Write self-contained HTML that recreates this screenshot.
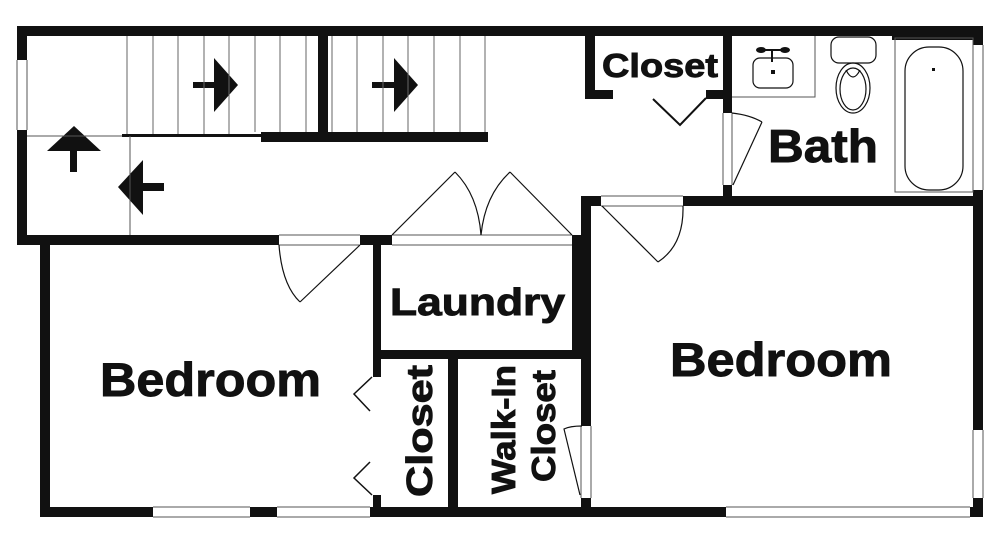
<!DOCTYPE html>
<html><head><meta charset="utf-8"><style>
html,body{margin:0;padding:0;background:#fff;width:1000px;height:554px;overflow:hidden}
svg text{font-family:"Liberation Sans",Arial,sans-serif;font-weight:bold;fill:#111;stroke:#111;stroke-width:0.9}
</style></head><body>
<svg width="1000" height="554" viewBox="0 0 1000 554" xmlns="http://www.w3.org/2000/svg">
<g fill="#111">
<rect x="17" y="26" width="966" height="10"/>
<rect x="892" y="26" width="91" height="14"/>
<rect x="17" y="26" width="10" height="34"/>
<rect x="17" y="130" width="10" height="115"/>
<rect x="17" y="235" width="262" height="10"/>
<rect x="360" y="235" width="32" height="10"/>
<rect x="572" y="235" width="10" height="10"/>
<rect x="40" y="243" width="10" height="274"/>
<rect x="40" y="507" width="113" height="10"/>
<rect x="250" y="507" width="27" height="10"/>
<rect x="370" y="507" width="356" height="10"/>
<rect x="970" y="507" width="13" height="10"/>
<rect x="973" y="26" width="10" height="19"/>
<rect x="973" y="190" width="10" height="240"/>
<rect x="973" y="498" width="10" height="19"/>
<rect x="373" y="238" width="8" height="139"/>
<rect x="373" y="495" width="8" height="22"/>
<rect x="373" y="350" width="218" height="9"/>
<rect x="572" y="238" width="10" height="112"/>
<rect x="581" y="197" width="10" height="229"/>
<rect x="581" y="498" width="10" height="19"/>
<rect x="448" y="350" width="10" height="167"/>
<rect x="581" y="196" width="20" height="10"/>
<rect x="683" y="196" width="300" height="10"/>
<rect x="723" y="36" width="9" height="77"/>
<rect x="723" y="185" width="9" height="12"/>
<rect x="585" y="36" width="10" height="63"/>
<rect x="585" y="90" width="28" height="9"/>
<rect x="706" y="90" width="20" height="9"/>
<rect x="318" y="36" width="10" height="106"/>
<rect x="261" y="132" width="227" height="10"/>
<rect x="122" y="134" width="139" height="3"/>
<polygon points="193,82 214,82 214,58 238,85 214,112 214,88 193,88"/>
<polygon points="372,82 394,82 394,58 418,85 394,112 394,88 372,88"/>
<polygon points="47,151 74,126 101,151 77,151 77,172 70,172 70,151"/>
<polygon points="118,187 143,160 143,183 164,183 164,191 143,191 143,215"/>
</g>
<g fill="none" stroke="#555" stroke-width="1">
<line x1="27" y1="60" x2="27" y2="130"/><line x1="17" y1="60" x2="17" y2="130"/>
<line x1="153" y1="507" x2="250" y2="507"/><line x1="153" y1="517" x2="250" y2="517"/>
<line x1="277" y1="507" x2="370" y2="507"/><line x1="277" y1="517" x2="370" y2="517"/>
<line x1="726" y1="507" x2="970" y2="507"/><line x1="726" y1="517" x2="970" y2="517"/>
<line x1="973" y1="45" x2="973" y2="190"/><line x1="983" y1="45" x2="983" y2="190"/>
<line x1="973" y1="430" x2="973" y2="498"/><line x1="983" y1="430" x2="983" y2="498"/>
<line x1="27" y1="136" x2="122" y2="136"/>
<line x1="130" y1="136" x2="130" y2="235"/>
<g stroke="#666">
<line x1="127" y1="36" x2="127" y2="134"/><line x1="153" y1="36" x2="153" y2="134"/>
<line x1="178" y1="36" x2="178" y2="134"/><line x1="204" y1="36" x2="204" y2="134"/>
<line x1="229" y1="36" x2="229" y2="134"/><line x1="255" y1="36" x2="255" y2="132"/>
<line x1="280" y1="36" x2="280" y2="132"/><line x1="306" y1="36" x2="306" y2="132"/>
<line x1="332" y1="36" x2="332" y2="132"/><line x1="357" y1="36" x2="357" y2="132"/>
<line x1="383" y1="36" x2="383" y2="132"/><line x1="408" y1="36" x2="408" y2="132"/>
<line x1="434" y1="36" x2="434" y2="132"/><line x1="460" y1="36" x2="460" y2="132"/>
<line x1="485" y1="36" x2="485" y2="132"/>
</g>
<line x1="279" y1="235" x2="360" y2="235"/><line x1="279" y1="245" x2="360" y2="245"/>
<line x1="392" y1="235" x2="572" y2="235"/><line x1="392" y1="245" x2="572" y2="245"/>
<line x1="601" y1="196" x2="683" y2="196"/><line x1="601" y1="206" x2="683" y2="206"/>
<line x1="723" y1="113" x2="723" y2="185"/><line x1="732" y1="113" x2="732" y2="185"/>
<line x1="581" y1="426" x2="581" y2="498"/><line x1="591" y1="426" x2="591" y2="498"/>
<polyline points="732,97 815,97 815,36"/>
<rect x="895" y="38" width="78" height="154"/>
</g>
<g fill="none" stroke="#111" stroke-width="1.2">
<line x1="360" y1="245" x2="300" y2="302"/><path d="M279,245 Q282,285 300,302"/>
<line x1="392" y1="235" x2="455" y2="172"/><path d="M455,172 Q478,195 481,235"/>
<line x1="572" y1="235" x2="510" y2="172"/><path d="M510,172 Q485,195 481,235"/>
<line x1="602" y1="206" x2="658" y2="262"/><path d="M683,206 Q684,245 658,262"/>
<line x1="733" y1="185" x2="762" y2="122"/><path d="M732,113 Q750,115 762,122"/>
<path d="M582,426 Q570,426 564,429 L580,495"/>
<polyline points="653,99 680,125 706,98" stroke-width="2"/>
<polyline points="372,377 354,394 370,411" stroke-width="1.5"/>
<polyline points="370,462 354,478 372,495" stroke-width="1.5"/>
<rect x="753" y="58" width="40" height="30" rx="7"/>
<rect x="831" y="37" width="45" height="26" rx="8"/>
<ellipse cx="853" cy="88" rx="17" ry="25"/><ellipse cx="853" cy="89" rx="13" ry="21"/>
<path d="M846,70 Q853,84 860,70"/>
<rect x="905" y="47" width="58" height="143" rx="24"/>
</g>
<g fill="#111">
<rect x="771" y="70" width="4" height="4"/><rect x="932" y="68" width="3" height="3"/>
<rect x="771" y="50" width="2" height="12"/>
<ellipse cx="761" cy="50" rx="5" ry="3"/><ellipse cx="785" cy="50" rx="5" ry="3"/>
<rect x="764" y="49" width="18" height="2"/>
</g>
<text x="602" y="77" font-size="33" textLength="116" lengthAdjust="spacingAndGlyphs">Closet</text>
<text x="768" y="162" font-size="46" textLength="110" lengthAdjust="spacingAndGlyphs">Bath</text>
<text x="390" y="315" font-size="38" textLength="175" lengthAdjust="spacingAndGlyphs">Laundry</text>
<text x="100" y="396" font-size="47" textLength="221" lengthAdjust="spacingAndGlyphs">Bedroom</text>
<text x="670" y="376" font-size="47" textLength="222" lengthAdjust="spacingAndGlyphs">Bedroom</text>
<text transform="translate(432,497) rotate(-90)" font-size="36" textLength="132" lengthAdjust="spacingAndGlyphs">Closet</text>
<text transform="translate(515,494) rotate(-90)" font-size="33" textLength="129" lengthAdjust="spacingAndGlyphs">Walk-In</text>
<text transform="translate(555,482) rotate(-90)" font-size="33" textLength="112" lengthAdjust="spacingAndGlyphs">Closet</text>
</svg>
</body></html>
